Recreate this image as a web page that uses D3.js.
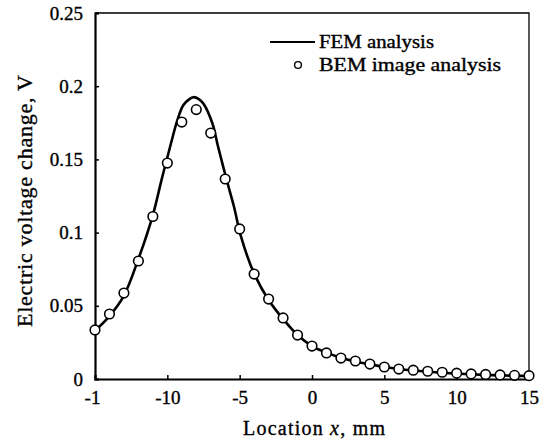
<!DOCTYPE html>
<html>
<head>
<meta charset="utf-8">
<script src="https://cdn.jsdelivr.net/npm/d3@7.9.0/dist/d3.min.js"></script>
<style>
  body { margin: 0; background: #fff; }
  text { font-family: "Liberation Serif", "Times New Roman", serif; fill: #000; stroke: #000; stroke-width: 0.35; }
</style>
</head>
<body>
<div id="chart"></div>
<script>
// FEM curve
const femX = [-15, -14, -13, -12, -11, -10.4, -9.8, -9.3, -8.9, -8.5, -8.2, -7.8, -7.5, -6.9, -6.5,
  -5.9, -5.4, -4.9, -4, -3, -2, -1, 0, 1, 2, 3, 4, 5, 6, 7, 8, 9, 10, 11, 12, 13, 14, 15];
const femV = [0.033, 0.043, 0.057, 0.082, 0.112, 0.136, 0.159, 0.177, 0.187, 0.191, 0.1925, 0.191, 0.188, 0.175, 0.159,
  0.136, 0.118, 0.097, 0.072, 0.054, 0.041, 0.030, 0.0225, 0.018, 0.0145, 0.012, 0.010, 0.0082, 0.0068, 0.0058,
  0.005, 0.0043, 0.0037, 0.0032, 0.0028, 0.0025, 0.0022, 0.002];

// BEM image analysis points
const bemX = [-15, -14, -13, -12, -11, -10, -9, -8, -7, -6, -5, -4, -3, -2, -1, 0,
  1, 2, 3, 4, 5, 6, 7, 8, 9, 10, 11, 12, 13, 14, 15];
const bemV = [0.0335, 0.0444, 0.0587, 0.0806, 0.111, 0.1475, 0.1755, 0.184, 0.168, 0.1366, 0.1025, 0.0717,
  0.0546, 0.0417, 0.030, 0.0225, 0.0178, 0.0143, 0.0123, 0.0102, 0.0082, 0.0068, 0.006, 0.0053, 0.0046,
  0.004, 0.0035, 0.0031, 0.0028, 0.0025, 0.0023];

const xTicks = [-15, -10, -5, 0, 5, 10, 15];
const xTickLabels = ["-1", "-10", "-5", "0", "5", "10", "15"];
const yTicks = [0, 0.05, 0.1, 0.15, 0.2, 0.25];
const yTickLabels = ["0", "0.05", "0.1", "0.15", "0.2", "0.25"];

const width = 542, height = 444;
const margin = { top: 13, right: 13, bottom: 65, left: 95 };

const svg = d3.select("#chart").append("svg")
  .attr("width", width)
  .attr("height", height);

const x = d3.scaleLinear().domain([-15, 15]).range([margin.left, width - margin.right]);
const y = d3.scaleLinear().domain([0, 0.25]).range([height - margin.bottom, margin.top]);

// frame (top + right)
svg.append("path")
  .attr("d", `M${x(-15)},${y(0.25)}H${x(15)}V${y(0)}`)
  .attr("fill", "none")
  .attr("stroke", "#000")
  .attr("stroke-width", 1.3);

// axes
const yAxis = svg.append("g")
  .attr("transform", `translate(${x(-15)},0)`)
  .call(d3.axisLeft(y).tickValues(yTicks).tickFormat((d, i) => yTickLabels[i])
    .tickSize(-4).tickPadding(12));
const xAxis = svg.append("g")
  .attr("transform", `translate(0,${y(0)})`)
  .call(d3.axisBottom(x).tickValues(xTicks).tickFormat((d, i) => xTickLabels[i])
    .tickSize(-4).tickPadding(12));

[xAxis, yAxis].forEach(g => {
  g.select(".domain").attr("stroke-width", 2.2);
  g.selectAll(".tick line").attr("stroke-width", 1.5);
  g.selectAll(".tick text").attr("font-size", 19).attr("font-family", '"Liberation Serif", serif');
});
xAxis.select(".tick text").attr("dx", -3); // the cut "-1" sits a bit left

// FEM line
const line = d3.line()
  .x((d, i) => x(femX[i]))
  .y(d => y(d))
  .curve(d3.curveCatmullRom);

svg.append("path")
  .datum(femV)
  .attr("d", line)
  .attr("fill", "none")
  .attr("stroke", "#000")
  .attr("stroke-width", 2.6);

// BEM points
svg.append("g").selectAll("circle")
  .data(bemV)
  .join("circle")
  .attr("cx", (d, i) => x(bemX[i]))
  .attr("cy", d => y(d))
  .attr("r", 4.8)
  .attr("fill", "#fff")
  .attr("stroke", "#000")
  .attr("stroke-width", 1.6);

// legend
svg.append("line")
  .attr("x1", 270).attr("x2", 315)
  .attr("y1", 42).attr("y2", 42)
  .attr("stroke", "#000")
  .attr("stroke-width", 2);
svg.append("text")
  .attr("x", 319).attr("y", 48)
  .attr("font-size", 18)
  .attr("textLength", 115)
  .attr("lengthAdjust", "spacingAndGlyphs")
  .text("FEM analysis");
svg.append("circle")
  .attr("cx", 298).attr("cy", 65)
  .attr("r", 3.4)
  .attr("fill", "#fff")
  .attr("stroke", "#000")
  .attr("stroke-width", 1.4);
svg.append("text")
  .attr("x", 319).attr("y", 71)
  .attr("font-size", 18)
  .attr("textLength", 182)
  .attr("lengthAdjust", "spacingAndGlyphs")
  .text("BEM image analysis");

// axis titles
const xTitle = svg.append("text")
  .attr("x", 314).attr("y", 435)
  .attr("text-anchor", "middle")
  .attr("font-size", 20)
  .attr("textLength", 142)
  .attr("lengthAdjust", "spacing");
xTitle.append("tspan").text("Location ");
xTitle.append("tspan").attr("font-style", "italic").text("x");
xTitle.append("tspan").text(", mm");

svg.append("text")
  .attr("transform", "translate(32,201) rotate(-90)")
  .attr("text-anchor", "middle")
  .attr("font-size", 22)
  .attr("textLength", 252)
  .attr("lengthAdjust", "spacing")
  .text("Electric voltage change, V");
</script>
</body>
</html>
